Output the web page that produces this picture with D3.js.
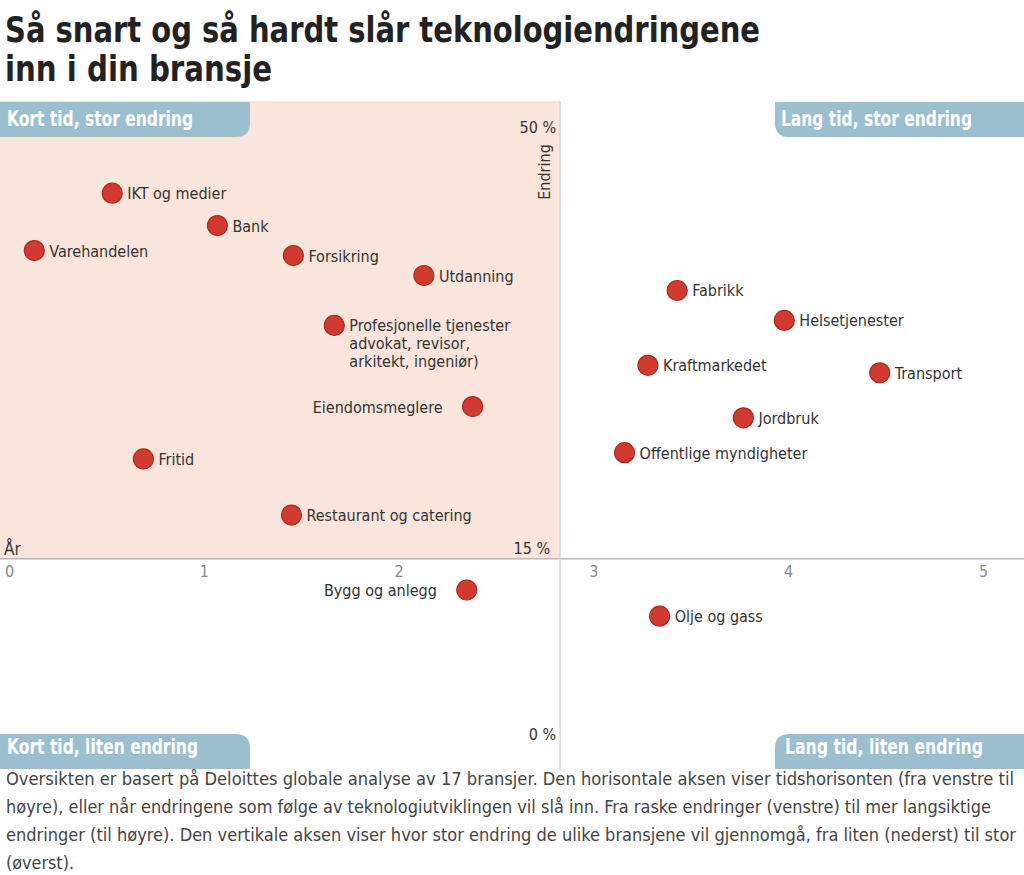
<!DOCTYPE html>
<html>
<head>
<meta charset="utf-8">
<script src="https://cdn.jsdelivr.net/npm/d3@7"></script>
<style>
  html, body { margin: 0; padding: 0; background: #fff; }
  svg { display: block; }
  text { font-family: "Liberation Sans Narrow", "DejaVu Sans Condensed", "Roboto Condensed", sans-serif; }
</style>
</head>
<body>
<svg id="chart" width="1024" height="875"></svg>
<script>
// ---------- DATA ----------
const titleLines = ["Så snart og så hardt slår teknologiendringene", "inn i din bransje"];
const industries = ["IKT og medier", "Bank", "Varehandelen", "Forsikring", "Utdanning",
  "Profesjonelle tjenester|advokat, revisor,|arkitekt, ingeniør)", "Eiendomsmeglere", "Fritid",
  "Restaurant og catering", "Bygg og anlegg", "Fabrikk", "Helsetjenester", "Kraftmarkedet",
  "Transport", "Jordbruk", "Offentlige myndigheter", "Olje og gass"];
const years   = [0.53, 1.07, 0.13, 1.46, 2.13, 1.67, 2.38, 0.69, 1.45, 2.35, 3.43, 3.98, 3.28, 4.47, 3.77, 3.16, 3.34];
const changes = [44.3, 41.7, 39.7, 39.3, 37.7, 33.7, 27.2, 23.0, 18.5, 12.5, 36.5, 34.1, 30.5, 29.9, 26.3, 23.5, 10.4];
const labelSide = ["right", "right", "right", "right", "right", "right", "left", "right",
  "right", "left", "right", "right", "right", "right", "right", "right", "right"];
const xTicks = [0, 1, 2, 3, 4, 5];
const yTickLabels = [{v: 50, t: "50 %"}, {v: 15, t: "15 %"}, {v: 0, t: "0 %"}];
const crossYear = 2.829;   // vertical divider (years)
const crossChange = 15;    // horizontal axis (%)
const quadrantLabels = ["Kort tid, stor endring", "Lang tid, stor endring", "Kort tid, liten endring", "Lang tid, liten endring"];
const footnoteLines = [
  "Oversikten er basert på Deloittes globale analyse av 17 bransjer. Den horisontale aksen viser tidshorisonten (fra venstre til",
  "høyre), eller når  endringene som følge av teknologiutviklingen vil slå inn. Fra raske endringer (venstre) til mer langsiktige",
  "endringer (til høyre). Den vertikale aksen viser hvor stor endring de ulike bransjene vil gjennomgå, fra liten (nederst) til stor",
  "(øverst)."
];

// ---------- CHART ----------
const svg = d3.select("#chart");
const x = d3.scaleLinear().domain([0, 5]).range([9, 983]);
const y = d3.scaleLinear().domain([0, 50]).range([746, 122]);

function fit(sel, w) {
  sel.each(function() {
    const len = this.getComputedTextLength();
    if (len > 0) d3.select(this).attr("textLength", w).attr("lengthAdjust", "spacingAndGlyphs");
  });
}

// title
const titleWidths = [755, 267];
titleLines.forEach((t, i) => {
  svg.append("text").attr("x", 5).attr("y", 42 + i * 39)
    .attr("font-size", 36).attr("font-weight", "bold").attr("fill", "#222")
    .text(t).call(fit, titleWidths[i]);
});

// pink quadrant
const xc = x(crossYear), yc = y(crossChange);
svg.append("rect").attr("x", 0).attr("y", 101).attr("width", xc).attr("height", yc - 101)
  .attr("fill", "#f9e5db");

// axes lines
svg.append("line").attr("x1", 0).attr("x2", 1024).attr("y1", yc).attr("y2", yc)
  .attr("stroke", "#b8b8b8").attr("stroke-width", 1.5);
svg.append("line").attr("x1", xc).attr("x2", xc).attr("y1", 101).attr("y2", 770)
  .attr("stroke", "#cfcfcf").attr("stroke-width", 1.2);

// x axis tick labels via d3 axis
const xAxis = d3.axisBottom(x).tickValues(xTicks).tickSize(0).tickPadding(7).tickFormat(d3.format("d"));
const gx = svg.append("g").attr("transform", `translate(0,${yc})`).call(xAxis);
gx.select(".domain").remove();
gx.selectAll("text").attr("font-size", 16).attr("fill", "#8a8a8a")
  .style("font-family", "'Liberation Sans Narrow','DejaVu Sans Condensed',sans-serif");

// y labels
const yLabelX = {50: xc - 4, 15: xc - 10, 0: xc - 4};
const yLabelY = {50: 133, 15: 554, 0: 740};
yTickLabels.forEach(d => {
  svg.append("text").attr("x", yLabelX[d.v]).attr("y", yLabelY[d.v])
    .attr("text-anchor", "end").attr("font-size", 16).attr("fill", "#333").text(d.t);
});
svg.append("text").attr("transform", `translate(${xc - 10},172) rotate(-90)`)
  .attr("text-anchor", "middle").attr("font-size", 16).attr("fill", "#333").text("Endring");
svg.append("text").attr("x", 4).attr("y", 555).attr("font-size", 17).attr("fill", "#333").text("År");

// quadrant tabs
const tabW = 250, tabH = 35, r = 14;
function tabPath(x0, y0, corner) {
  const x1 = x0 + tabW, y1 = y0 + tabH;
  if (corner === "br") return `M${x0},${y0}H${x1}V${y1 - r}Q${x1},${y1} ${x1 - r},${y1}H${x0}Z`;
  if (corner === "bl") return `M${x0},${y0}H${x1}V${y1}H${x0 + r}Q${x0},${y1} ${x0},${y1 - r}Z`;
  if (corner === "tr") return `M${x0},${y0}H${x1 - r}Q${x1},${y0} ${x1},${y0 + r}V${y1}H${x0}Z`;
  return `M${x0 + r},${y0}H${x1}V${y1}H${x0}V${y0 + r}Q${x0},${y0} ${x0 + r},${y0}Z`;
}
const tabs = [
  {x: 0, y: 102, c: "br", tx: 7, w: 186, ty: 24},
  {x: 775, y: 102, c: "bl", tx: 781, w: 191, ty: 24},
  {x: 0, y: 734, c: "tr", tx: 7, w: 191, ty: 20},
  {x: 775, y: 734, c: "tl", tx: 785, w: 198, ty: 20}
];
tabs.forEach((t, i) => {
  svg.append("path").attr("d", tabPath(t.x, t.y, t.c)).attr("fill", "#9cbfcf");
  svg.append("text").attr("x", t.tx).attr("y", t.y + t.ty).attr("font-size", 21)
    .attr("font-weight", "bold").attr("fill", "#fff").text(quadrantLabels[i]).call(fit, t.w);
});

// points
const pts = industries.map((n, i) => ({name: n, yr: years[i], ch: changes[i], side: labelSide[i]}));
const g = svg.append("g");
g.selectAll("circle").data(pts).join("circle")
  .attr("cx", d => x(d.yr)).attr("cy", d => y(d.ch)).attr("r", 10)
  .attr("fill", "#d23a30").attr("stroke", "#b3271f").attr("stroke-width", 1.2);

pts.forEach(d => {
  const lines = d.name.split("|");
  const px = x(d.yr), py = y(d.ch);
  const lx = d.side === "right" ? px + 15 : px - 30;
  const t = g.append("text").attr("font-size", 16).attr("fill", "#333")
    .attr("text-anchor", d.side === "right" ? "start" : "end")
    .attr("x", lx).attr("y", py + 6);
  lines.forEach((l, k) => {
    t.append("tspan").attr("x", lx).attr("dy", k === 0 ? 0 : 18).text(l);
  });
});

// footnote
const footWidths = [1008, 985, 1010, 68];
footnoteLines.forEach((l, i) => {
  svg.append("text").attr("x", 6).attr("y", 785 + i * 28)
    .attr("font-size", 18).attr("fill", "#444").text(l).call(fit, footWidths[i]);
});
</script>
</body>
</html>
